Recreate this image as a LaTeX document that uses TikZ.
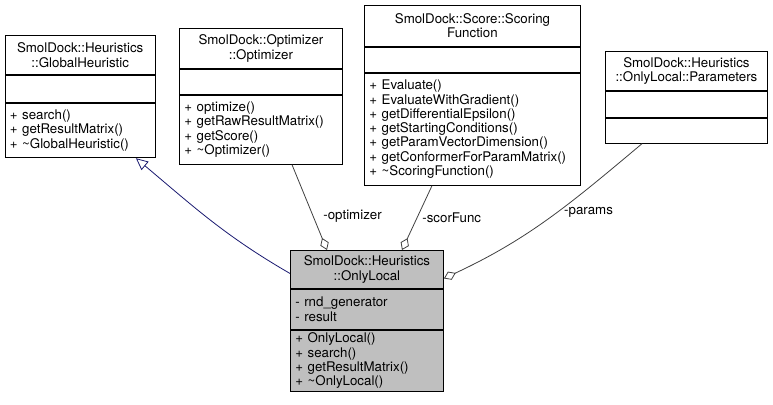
\documentclass[tikz,border=0pt]{standalone}
\usepackage{fontspec}
\setmainfont{TeX Gyre Heros}
\usetikzlibrary{positioning,arrows.meta}

\definecolor{midnight}{RGB}{25,25,112}
\definecolor{edgegrey}{RGB}{64,64,64}

\tikzset{
  head/.style={draw, fill=white, align=center, inner xsep=4pt, inner ysep=0pt, line width=0.9pt},
  part/.style={draw, fill=white, align=left, inner xsep=5pt, inner ysep=0pt, line width=0.9pt},
  usage/.style={draw=edgegrey, line width=0.8pt, {Diamond[open, length=13pt, width=9pt, line width=0.8pt]}-},
  inherit/.style={draw=midnight, line width=0.8pt, -{Triangle[open, length=12pt, width=11pt, line width=0.8pt]}},
  role/.style={text=black, inner sep=2pt}
}

\begin{document}
\begin{tikzpicture}[x=1pt, y=-1pt, font=\fontsize{13.3}{14.3}\selectfont]
    \useasboundingbox (0,0) rectangle (773,404);

    % GlobalHeuristic
    \node[head, anchor=north west, text width=142.5pt, minimum height=38.5pt] (glob) at (4.5,35.5) {SmolDock::Heuristics\\::GlobalHeuristic};
    \node[part, below=0pt of glob, minimum width=150.5pt, minimum height=27pt] (globA) {};
    \node[part, below=0pt of globA, text width=140.5pt, minimum height=54.5pt] (globM) {+ search()\\+ getResultMatrix()\\+ \textasciitilde GlobalHeuristic()};

    % Optimizer
    \node[head, anchor=north west, text width=155pt, minimum height=40pt] (opt) at (179,28) {SmolDock::Optimizer\\::Optimizer};
    \node[part, below=0pt of opt, minimum width=163pt, minimum height=25pt] (optA) {};
    \node[part, below=0pt of optA, text width=153pt, minimum height=69pt] (optM) {+ optimize()\\+ getRawResultMatrix()\\+ getScore()\\+ \textasciitilde Optimizer()};

    % ScoringFunction
    \node[head, anchor=north west, text width=208pt, minimum height=41pt] (scor) at (364,5) {SmolDock::Score::Scoring\\Function};
    \node[part, below=0pt of scor, minimum width=216pt, minimum height=25pt] (scorA) {};
    \node[part, below=0pt of scorA, text width=206pt, minimum height=112pt] (scorM) {+ Evaluate()\\+ EvaluateWithGradient()\\+ getDifferentialEpsilon()\\+ getStartingConditions()\\+ getParamVectorDimension()\\+ getConformerForParamMatrix()\\+ \textasciitilde ScoringFunction()};

    % Parameters
    \node[head, anchor=north west, text width=154pt, minimum height=39pt] (par) at (605,51) {SmolDock::Heuristics\\::OnlyLocal::Parameters};
    \node[part, below=0pt of par, minimum width=162pt, minimum height=26pt] (parA) {};
    \node[part, below=0pt of parA, minimum width=162pt, minimum height=25pt] (parM) {};

    % OnlyLocal
    \node[head, fill=black!25, anchor=north west, text width=145pt, minimum height=38pt] (loc) at (290,250) {SmolDock::Heuristics\\::OnlyLocal};
    \node[part, fill=black!25, below=0pt of loc, text width=143pt, minimum height=40pt] (locA) {- rnd\_generator\\- result};
    \node[part, fill=black!25, below=0pt of locA, text width=143pt, minimum height=61pt] (locM) {+ OnlyLocal()\\+ search()\\+ getResultMatrix()\\+ \textasciitilde OnlyLocal()};

    % relations
    \draw[inherit] ([yshift=-4pt]loc.west) to[out=150, in=-40] ([xshift=-20pt]globM.south east);
    \draw[usage] ([xshift=37pt]loc.north west) -- node[role, pos=0.4, right=8pt] {-optimizer} ([xshift=113pt]optM.south west);
    \draw[usage] ([xshift=112pt]loc.north west) -- node[role, pos=0.5, right=3pt] {-scorFunc} ([xshift=68pt]scorM.south west);
    \draw[usage] ([yshift=-9pt]loc.east) to[out=25, in=-140] node[role, pos=0.55, right=5pt] {-params} ([xshift=37pt]parM.south west);
\end{tikzpicture}
\end{document}
